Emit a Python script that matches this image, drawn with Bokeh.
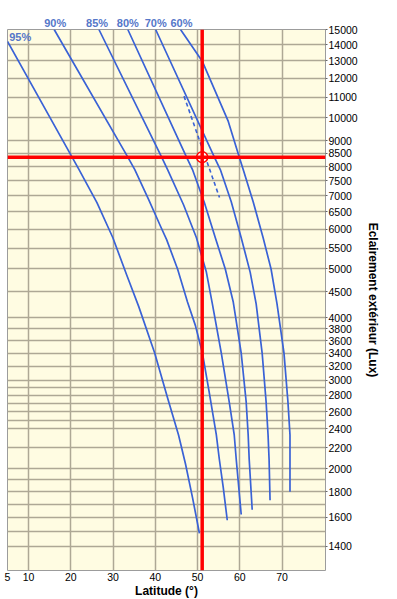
from bokeh.plotting import figure
from bokeh.models import FixedTicker, Label, Span, NumeralTickFormatter, LinearAxis
from bokeh.embed import file_html
from bokeh.resources import INLINE

# ---- data (latitude in degrees, illuminance in lux) ----
lat_95 = [5.0, 20.29, 21.94, 26.18, 29.95, 33.25, 36.08, 39.85, 42.91, 45.50, 47.15, 48.80, 50.45]
lux_95 = [14200, 8354, 7890, 6777, 5770, 4858, 4207, 3400, 2767, 2335, 2044, 1754, 1487]
lat_90 = [16.05, 33.49, 35.14, 38.43, 41.26, 42.68, 45.27, 47.62, 49.50, 51.16, 52.80, 54.45, 55.16, 56.10, 57.04]
lux_90 = [15000, 8354, 7890, 6872, 6076, 5720, 5000, 4297, 3856, 3400, 2828, 2335, 2089, 1832, 1579]
lat_85 = [26.65, 41.50, 42.91, 46.68, 49.74, 52.09, 53.51, 55.63, 57.51, 58.69, 59.16, 60.34]
lux_85 = [15000, 8354, 7890, 6714, 5770, 4929, 4261, 3400, 2714, 2335, 2089, 1621]
lat_80 = [33.49, 47.39, 48.80, 51.63, 54.21, 56.57, 58.46, 60.34, 61.52, 61.99, 62.23, 62.94]
lux_80 = [15000, 8354, 7890, 6777, 5770, 5000, 4297, 3400, 2714, 2335, 2089, 1657]
lat_70 = [40.08, 53.98, 55.39, 57.98, 60.34, 62.46, 63.88, 65.30, 66.24, 66.70, 66.94, 67.17]
lux_70 = [15000, 8354, 7890, 6808, 5770, 4929, 4261, 3400, 2714, 2335, 2089, 1731]
lat_60 = [45.97, 51.16, 57.28, 59.87, 60.81, 63.17, 65.53, 67.41, 68.82, 70.47, 71.41, 71.89, 71.89, 71.89]
lux_60 = [15000, 12948, 9839, 8354, 7890, 6808, 5770, 5000, 4261, 3400, 2714, 2335, 2089, 1800]

curve_names = ["95%", "90%", "85%", "80%", "70%", "60%"]
label_lat = [8.0, 16.3, 26.2, 33.5, 40.1, 46.2]
label95_lux = 14480

lat_dash = [46.8, 55.2]
lux_dash = [11050, 6940]

site_lat = 51.1
site_lux = 8350

x_ticks = [5, 10, 20, 30, 40, 50, 60, 70]
x_grid = [10, 20, 30, 40, 50, 60, 70]
y_ticks = [1400, 1600, 1800, 2000, 2200, 2400, 2600, 2800, 3000, 3200, 3400, 3600,
           3800, 4000, 4500, 5000, 5500, 6000, 6500, 7000, 7500, 8000, 8500, 9000,
           10000, 11000, 12000, 13000, 14000, 15000]
y_minor = [1500, 1700, 1900, 2500, 2700, 2900]

CURVE = "#3a62d6"
LABEL = "#5577c9"
FONT = "Liberation Sans"

p = figure(frame_width=318, frame_height=541,
           x_range=(5, 80.3), y_range=(1254, 15000), y_axis_type="log",
           y_axis_location="right", output_backend="svg", toolbar_location=None,
           min_border_left=7, min_border_top=29, min_border_right=0, min_border_bottom=0,
           background_fill_color="#fffce2", border_fill_color="white")

p.outline_line_color = "#9c9c9c"
p.outline_line_width = 1

p.xgrid.ticker = FixedTicker(ticks=x_grid)
p.ygrid.ticker = FixedTicker(ticks=sorted(y_ticks + y_minor))
for g in (p.xgrid, p.ygrid):
    g.grid_line_color = "#aea895"
    g.grid_line_width = 1.5

p.xaxis.ticker = FixedTicker(ticks=x_ticks)
p.yaxis.ticker = FixedTicker(ticks=y_ticks)
p.yaxis.formatter = NumeralTickFormatter(format="0")

for ax in (p.xaxis, p.yaxis):
    ax.axis_line_color = None
    ax.minor_tick_line_color = None
    ax.major_label_text_font = FONT
    ax.major_label_text_font_size = "10.5px"
    ax.major_label_text_color = "black"
    ax.axis_label_text_font = FONT
    ax.axis_label_text_font_size = "12px"
    ax.axis_label_text_font_style = "bold"
    ax.axis_label_text_color = "black"

p.xaxis.major_tick_line_color = None
p.xaxis.major_tick_out = 0
p.xaxis.major_tick_in = 0
p.xaxis.major_label_standoff = 2
p.xaxis.axis_label_standoff = 0
p.xaxis.axis_label = "Latitude (°)"

p.yaxis.major_tick_out = 2
p.yaxis.major_tick_in = 0
p.yaxis.major_tick_line_color = "#666666"
p.yaxis.major_label_standoff = 1
p.yaxis.axis_label_standoff = 5
p.yaxis.axis_label = "Eclairement extérieur (Lux)"

lats = [lat_95, lat_90, lat_85, lat_80, lat_70, lat_60]
luxs = [lux_95, lux_90, lux_85, lux_80, lux_70, lux_60]
for xs, ys in zip(lats, luxs):
    p.line(xs, ys, line_color=CURVE, line_width=1.7, line_join="round")

p.line(lat_dash, lux_dash, line_color=CURVE, line_width=1.6, line_dash="4 3")

p.add_layout(Span(location=site_lat, dimension="height", line_color="#ff0000", line_width=3.5))
p.add_layout(Span(location=site_lux, dimension="width", line_color="#ff0000", line_width=3.5))
p.scatter([site_lat], [site_lux], size=11, fill_color="white", line_color="#ff0000", line_width=1.5)

# curve labels: 95% inside the frame, the others above it
p.add_layout(Label(x=label_lat[0], y=label95_lux, text=curve_names[0], text_align="center",
                   text_baseline="middle", text_font=FONT, text_font_size="11px",
                   text_font_style="bold", text_color=LABEL))

top_ticks = label_lat[1:]
top_axis = LinearAxis(ticker=FixedTicker(ticks=top_ticks),
                      major_label_overrides={t: n for t, n in zip(top_ticks, curve_names[1:])})
top_axis.axis_line_color = None
top_axis.major_tick_line_color = None
top_axis.minor_tick_line_color = None
top_axis.major_tick_out = 0
top_axis.major_tick_in = 0
top_axis.major_label_standoff = 1
top_axis.major_label_text_font = FONT
top_axis.major_label_text_font_size = "11px"
top_axis.major_label_text_font_style = "bold"
top_axis.major_label_text_color = LABEL
p.add_layout(top_axis, "above")

open("out.html", "w").write(file_html(p, INLINE))
